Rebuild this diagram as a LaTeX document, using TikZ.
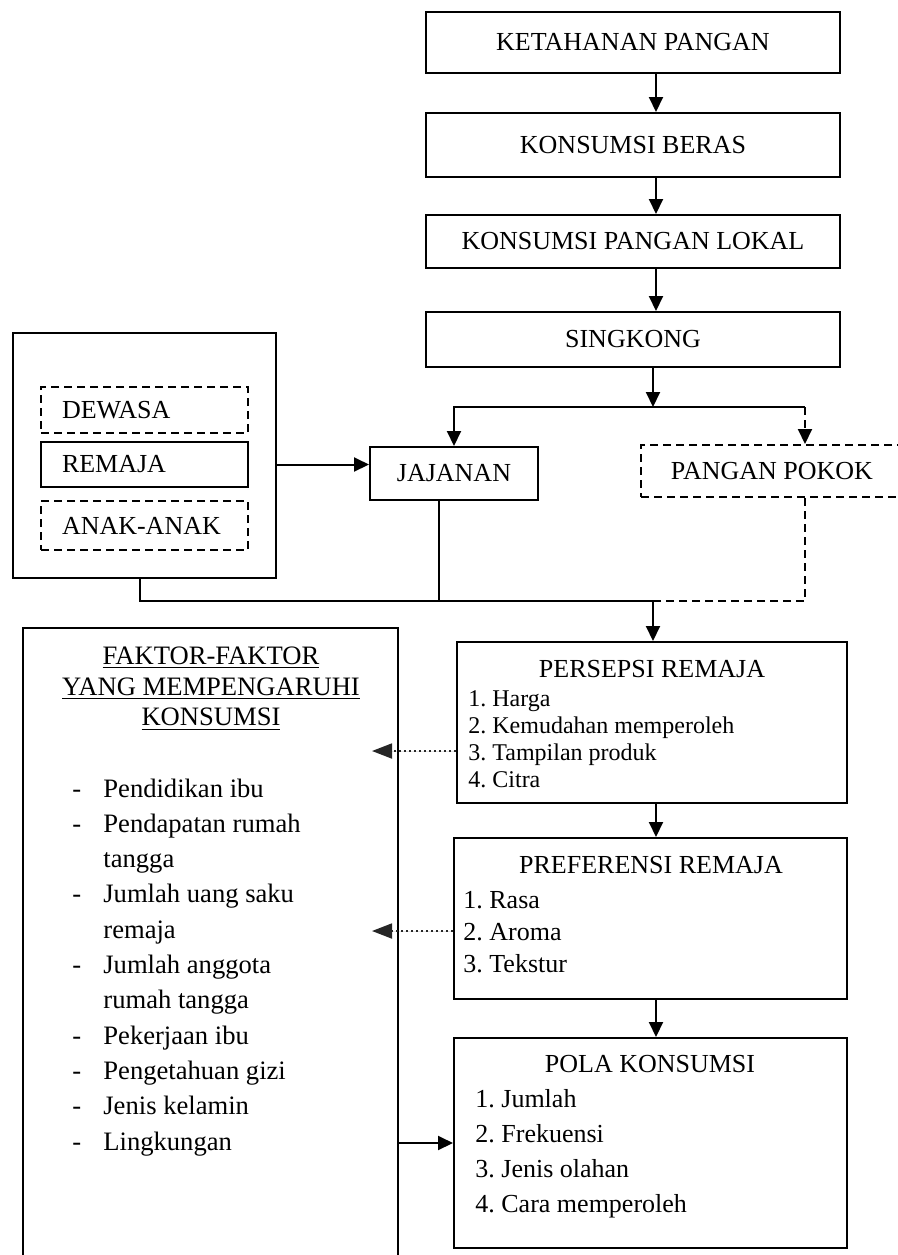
\documentclass[tikz,border=0pt]{standalone}
\usepackage{fontspec}
\setmainfont{Liberation Serif}
\usetikzlibrary{arrows.meta}

\begin{document}
\begin{tikzpicture}[x=0.5pt, y=-0.5pt,
    font=\fontsize{13}{15.6}\selectfont,
    box/.style={draw, line width=1pt, inner sep=0pt},
    dbox/.style={box, dash pattern=on 4pt off 2.5pt},
    lbox/.style={box, align=left, inner xsep=10.5pt},
    arr/.style={-{Triangle[length=7.5pt, width=7pt]}, line width=1pt},
    darr/.style={arr, dash pattern=on 4pt off 2.5pt},
    conn/.style={line width=0.8pt},
    dconn/.style={conn, dash pattern=on 4pt off 2.5pt},
    dotarr/.style={-{Triangle[length=10pt, width=7.5pt]}, line width=0.9pt,
        dash pattern=on 0.9pt off 1.6pt, draw=black!85, fill=black!80}]
  \useasboundingbox (0,0) rectangle (898,1255);

  % main column
  \node[box, minimum width=207pt, minimum height=30.5pt] (ketahanan) at (633,42.5) {KETAHANAN PANGAN};
  \node[box, minimum width=207pt, minimum height=32pt] (beras) at (633,145) {KONSUMSI BERAS};
  \node[box, minimum width=207pt, minimum height=26.5pt] (lokal) at (633,241.5) {KONSUMSI PANGAN LOKAL};
  \node[box, minimum width=207pt, minimum height=27.5pt] (singkong) at (633,339.5) {SINGKONG};

  \coordinate (colx) at (656,0);
  \coordinate (split) at (653,407);
  \coordinate (merge) at (653,601);
  \coordinate (pk) at (805,601);
  \coordinate (gb) at (140,601);
  \coordinate (jb) at (439,601);

  \draw[arr] (ketahanan.south -| colx) -- (beras.north -| colx);
  \draw[arr] (beras.south -| colx) -- (lokal.north -| colx);
  \draw[arr] (lokal.south -| colx) -- (singkong.north -| colx);

  % consumer group
  \node[box, minimum width=131.5pt, minimum height=122.5pt] (group) at (144.5,455.5) {};
  \node[lbox, dash pattern=on 4pt off 2.5pt, text width=82.5pt, minimum height=23pt] (dewasa) at (144.5,410) {DEWASA};
  \node[lbox, text width=82.5pt, minimum height=22.5pt] (remaja) at (144.5,464.5) {REMAJA};
  \node[lbox, dash pattern=on 4pt off 2.5pt, text width=82.5pt, minimum height=24.5pt] (anak) at (144.5,525.5) {ANAK-ANAK};

  \node[box, minimum width=84pt, minimum height=26.5pt] (jajanan) at (454,473.5) {JAJANAN};
  \node[dbox, minimum width=131pt, minimum height=26pt] (pokok) at (772,471) {PANGAN POKOK};

  \draw[arr] (singkong.south -| split) -- (split);
  \draw[arr] (split) -| (jajanan.north);
  \draw[line width=1pt] (split) -- (split -| pk);
  \draw[darr] (split -| pk) -- (pokok.north -| pk);
  \draw[arr] (remaja -| group.east) -- (remaja -| jajanan.west);

  \draw[conn] (group.south -| gb) -- (gb) -- (merge);
  \draw[conn] (jajanan.south -| jb) -- (jb);
  \draw[dconn] (pokok.south -| pk) -- (pk) -- (merge);

  % persepsi, preferensi, pola
  \node[box, minimum width=195pt, minimum height=80.5pt] (persepsi) at (652,722.5) {};
  \node[anchor=base] (persepsi-h) at (652,677) {PERSEPSI REMAJA};
  \foreach \t [count=\i] in {1.~Harga, 2.~Kemudahan memperoleh, 3.~Tampilan produk, 4.~Citra}
    \node[anchor=base west, inner sep=0pt, font=\fontsize{12}{14}\selectfont] (persepsi-\i) at (468,706+27.3*\i-27.3) {\t};

  \node[box, minimum width=196.5pt, minimum height=80.5pt] (preferensi) at (650.5,918.5) {};
  \node[anchor=base] (preferensi-h) at (651,873) {PREFERENSI REMAJA};
  \foreach \t [count=\i] in {1.~Rasa, 2.~Aroma, 3.~Tekstur}
    \node[anchor=base west, inner sep=0pt] (preferensi-\i) at (463,908+32*\i-32) {\t};

  \node[box, minimum width=196.5pt, minimum height=105pt] (pola) at (650.5,1143) {};
  \node[anchor=base] (pola-h) at (650,1072) {POLA KONSUMSI};
  \foreach \t [count=\i] in {1.~Jumlah, 2.~Frekuensi, 3.~Jenis olahan, 4.~Cara memperoleh}
    \node[anchor=base west, inner sep=0pt] (pola-\i) at (475,1107+35.3*\i-35.3) {\t};

  \draw[arr] (merge) -- (merge |- persepsi.north);
  \draw[arr] (persepsi.south -| colx) -- (preferensi.north -| colx);
  \draw[arr] (preferensi.south -| colx) -- (pola.north -| colx);

  % faktor-faktor
  \node[box, minimum width=187.5pt, minimum height=321pt] (faktor) at (210.5,949) {};
  \foreach \t [count=\i] in {FAKTOR-FAKTOR, YANG MEMPENGARUHI, KONSUMSI}
    \node[anchor=base, inner sep=0pt, font=\fontsize{13.3}{16}\selectfont] (ftitle-\i) at (211,664.5+30.7*\i-30.7) {\underline{\t}};
  \foreach \t/\d [count=\i] in {Pendidikan ibu/1, Pendapatan rumah/1, tangga/0,
      Jumlah uang saku/1, remaja/0, Jumlah anggota/1, rumah tangga/0,
      Pekerjaan ibu/1, Pengetahuan gizi/1, Jenis kelamin/1, Lingkungan/1}{
    \node[anchor=base west, inner sep=0pt, font=\fontsize{13.3}{16}\selectfont] (fitem-\i) at (103,797+35.3*\i-35.3) {\t};
    \ifnum\d=1
      \node[anchor=base west, inner sep=0pt, font=\fontsize{13.3}{16}\selectfont] (fdash-\i) at (72,797+35.3*\i-35.3) {-};
    \fi
  }

  \coordinate (d1) at (372,751);
  \coordinate (d2) at (372,931);
  \draw[dotarr] (persepsi.west |- d1) -- (d1);
  \draw[dotarr] (preferensi.west |- d2) -- (d2);
  \draw[arr] (pola.west -| faktor.east) -- (pola.west);
\end{tikzpicture}
\end{document}
